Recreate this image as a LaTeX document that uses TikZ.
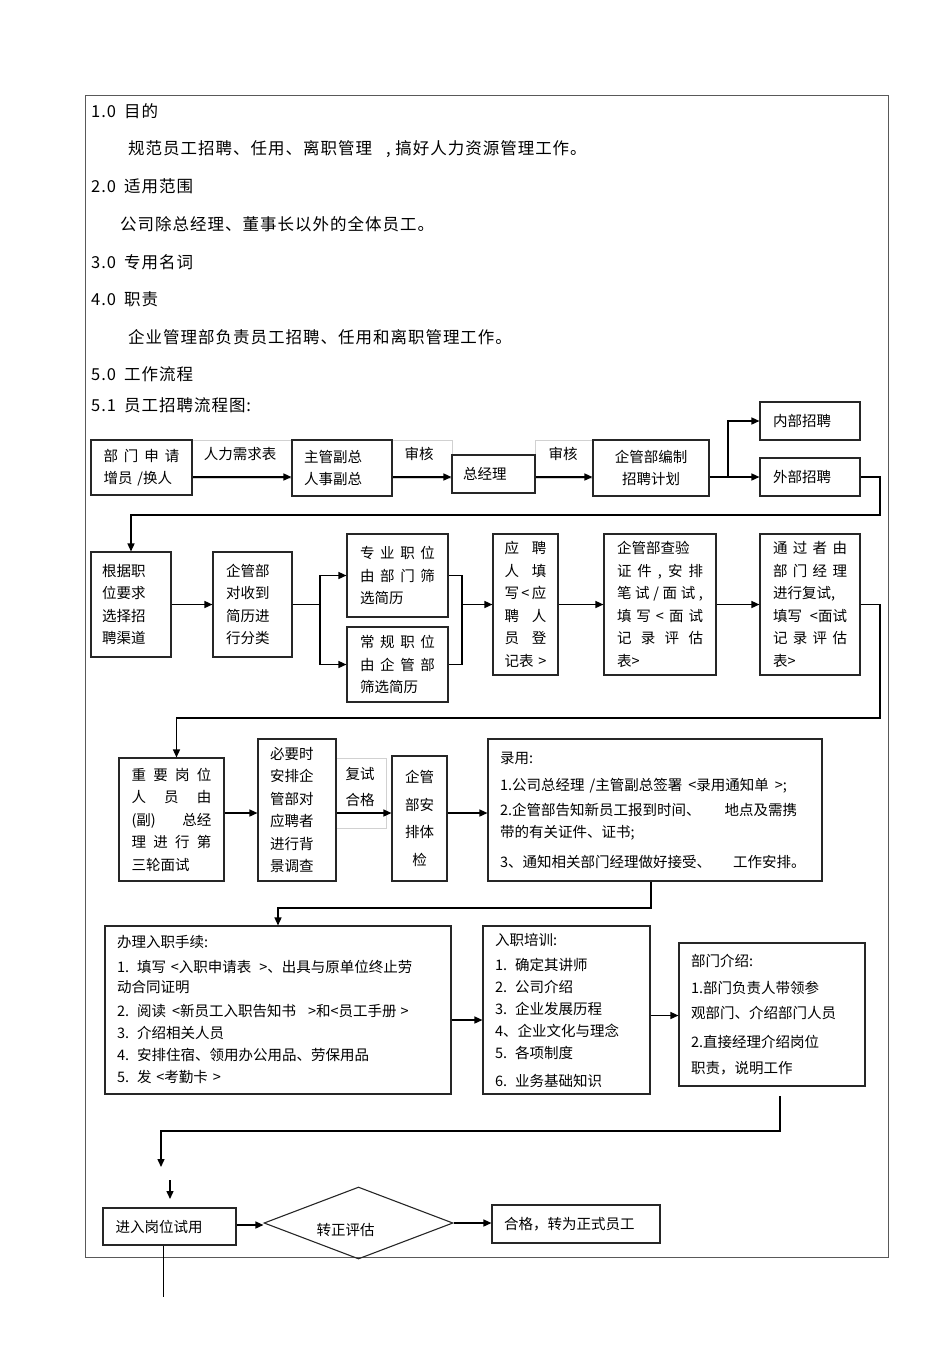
\documentclass[tikz,border=0pt]{standalone}
\usepackage{fontspec}
\setmainfont{Noto Sans CJK SC}
\usetikzlibrary{arrows.meta,shapes.geometric,calc}
\newcommand\Jl[1]{\makebox[\linewidth][l]{#1}}
\tikzset{
  box/.style={draw=black!85, line width=1.1pt, inner sep=0pt, align=left,
              font=\fontsize{14.5}{22.5}\selectfont},
  arr/.style={line width=1.4pt, -{Triangle[length=8pt,width=7pt]}},
  ln/.style={line width=1.4pt},
  body/.style={anchor=west, inner sep=0pt,
               font=\fontsize{16.5}{20}\selectfont\addfontfeatures{LetterSpace=6}},
  faint/.style={draw=black!18, line width=0.8pt},
  lbl/.style={inner sep=0pt, align=left, font=\fontsize{14.5}{26}\selectfont},
}
\begin{document}
\begin{tikzpicture}[x=1pt,y=-1pt]
\useasboundingbox (0,0) rectangle (950,1345);
% outer frame
\draw[black!65, line width=0.9pt] (85,95) rectangle (888,1257);

% body text
\node[body] (t10) at (91,111) {1.0\hspace{8pt}目的};
\node[body] (t11) at (128,149) {规范员工招聘、任用、离职管理\hspace{14pt}, 搞好人力资源管理工作。};
\node[body] (t20) at (91,186) {2.0\hspace{8pt}适用范围};
\node[body] (t21) at (120,224) {公司除总经理、董事长以外的全体员工。};
\node[body] (t30) at (91,262) {3.0\hspace{8pt}专用名词};
\node[body] (t40) at (91,299) {4.0\hspace{8pt}职责};
\node[body] (t41) at (128,337) {企业管理部负责员工招聘、任用和离职管理工作。};
\node[body] (t50) at (91,374) {5.0\hspace{8pt}工作流程};
\node[body] (t51) at (91,405) {5.1\hspace{8pt}员工招聘流程图:};

% ---------- row 1 ----------
\draw[faint] (192,440) rectangle (292,478);
\draw[faint] (392,440) rectangle (452,478);
\draw[faint] (535,440) rectangle (593,478);
\node[box, minimum width=101pt, minimum height=55pt, text width=76pt] (A) at (141.5,467.5)
  {\Jl{部\hfill 门\hfill 申\hfill 请}\\增员 /换人};
\node[box, minimum width=100pt, minimum height=56pt, text width=76pt] (B) at (342,468)
  {主管副总\\人事副总};
\node[box, minimum width=83pt, minimum height=38pt, text width=61pt] (C) at (493.5,474)
  {总经理};
\node[box, minimum width=116pt, minimum height=56pt, text width=90pt, align=center] (D) at (651,468)
  {企管部编制\\招聘计划};
\node[box, minimum width=100pt, minimum height=38pt, text width=74pt] (E1) at (810,421)
  {内部招聘};
\node[box, minimum width=100pt, minimum height=38pt, text width=74pt] (E2) at (810,477)
  {外部招聘};
\node[lbl] (lA) at (240,454) {人力需求表};
\node[lbl] (lB) at (419,454) {审核};
\node[lbl] (lC) at (563,454) {审核};

\draw[arr] ([yshift=-9.5pt]A.east) -- ([yshift=-9.5pt]A.east -| B.west);
\draw[arr] ([yshift=-9pt]B.east) -- ([yshift=-9pt]B.east -| C.west);
\draw[arr] ([yshift=-3pt]C.east) -- ([yshift=-3pt]C.east -| D.west);
\coordinate (jD) at (728,477);
\draw[ln] (D.east |- jD) -- (jD);
\draw[arr] (jD) |- (E1.west);
\draw[arr] (jD) -- (E2.west);

% ---------- row 2 ----------
\node[box, minimum width=80pt, minimum height=105pt, text width=58pt] (F) at (131,604.5)
  {根据职\\位要求\\选择招\\聘渠道};
\node[box, minimum width=79pt, minimum height=105pt, text width=53pt] (G) at (252.5,604.5)
  {企管部\\对收到\\简历进\\行分类};
\node[box, minimum width=101pt, minimum height=83pt, text width=75pt] (H1) at (397.5,575.5)
  {\Jl{专\hfill 业\hfill 职\hfill 位}\\\Jl{由\hfill 部\hfill 门\hfill 筛}\\选简历};
\node[box, minimum width=101pt, minimum height=75pt, text width=75pt] (H2) at (397.5,664.5)
  {\Jl{常\hfill 规\hfill 职\hfill 位}\\\Jl{由\hfill 企\hfill 管\hfill 部}\\筛选简历};
\node[box, minimum width=65pt, minimum height=141pt, text width=42pt] (I) at (525.5,604.5)
  {\Jl{应\hfill 聘}\\\Jl{人\hfill 填}\\\Jl{写\hfill <\hfill 应}\\\Jl{聘\hfill 人}\\\Jl{员\hfill 登}\\记表 >};
\node[box, minimum width=112pt, minimum height=141pt, text width=86pt] (J) at (660,604.5)
  {企管部查验\\\Jl{证\hfill 件\hfill ,\hfill 安\hfill 排}\\\Jl{笔\hfill 试\hfill /\hfill 面\hfill 试\hfill ,}\\\Jl{填\hfill 写\hfill <\hfill 面\hfill 试}\\\Jl{记\hfill 录\hfill 评\hfill 估}\\表>};
\node[box, minimum width=100pt, minimum height=141pt, text width=74pt] (K) at (810,604.5)
  {\Jl{通\hfill 过\hfill 者\hfill 由}\\\Jl{部\hfill 门\hfill 经\hfill 理}\\进行复试,\\\Jl{填写\hfill <面试}\\\Jl{记\hfill 录\hfill 评\hfill 估}\\表>};

\coordinate (t1) at (880,515);
\draw[arr] (E2.east) -| (t1) -| (F.north);
\draw[arr] (F.east) -- (G.west);
\coordinate (jG) at (320,604.5);
\draw[ln] (G.east) -- (jG);
\draw[arr] (jG) |- (H1.west);
\draw[arr] (jG) |- (H2.west);
\coordinate (jH) at (462,604.5);
\draw[ln] (H1.east) -| (jH) |- (H2.east);
\draw[arr] (jH) -- (I.west);
\draw[arr] (I.east) -- (J.west);
\draw[arr] (J.east) -- (K.west);

% ---------- row 3 ----------
\draw[faint] (336,758) rectangle (386,828);
\node[box, minimum width=105pt, minimum height=123pt, text width=80pt] (L) at (171.5,819.5)
  {\Jl{重\hfill 要\hfill 岗\hfill 位}\\\Jl{人\hfill 员\hfill 由}\\\Jl{(副)\hfill 总经}\\\Jl{理\hfill 进\hfill 行\hfill 第}\\三轮面试};
\node[box, minimum width=78pt, minimum height=142pt, text width=54pt] (M) at (297,810)
  {必要时\\安排企\\管部对\\应聘者\\进行背\\景调查};
\node[lbl] (lM) at (360,787) {复试\\合格};
\node[box, minimum width=55pt, minimum height=125pt, text width=40pt, align=center,
      font=\fontsize{14.5}{27.5}\selectfont] (N) at (419.5,818.5)
  {企管\\部安\\排体\\检};
\node[box, minimum width=334pt, minimum height=142pt, text width=310pt] (O) at (655,810)
  {录用:\\[5pt]
   1.公司总经理\hspace{5pt}/主管副总签署\hspace{6pt}<录用通知单\hspace{6pt}>;\\[2pt]
   2.企管部告知新员工报到时间、\hspace{24pt}地点及需携\\
   带的有关证件、证书;\\[7pt]
   3、通知相关部门经理做好接受、\hspace{22pt}工作安排。};

\coordinate (t2) at (880,718);
\draw[arr] (K.east) -| (t2) -| ([xshift=5pt]L.north);
\draw[arr] ([yshift=6.5pt]L.east) -- ([yshift=6.5pt]L.east -| M.west);
\draw[arr] ([yshift=-3pt]M.east) -- ([yshift=-3pt]M.east -| N.west);
\draw[arr] ([yshift=5.5pt]N.east) -- ([yshift=5.5pt]N.east -| O.west);

% ---------- row 4 ----------
\node[box, minimum width=346pt, minimum height=168pt, text width=322pt,
      font=\fontsize{14.5}{22}\selectfont] (P) at (278,1010)
  {办理入职手续:\\[3pt]
   1.\hspace{8pt}填写 <入职申请表\hspace{8pt}>、出具与原单位终止劳\\[-2pt]
   动合同证明\\[2pt]
   2.\hspace{8pt}阅读\hspace{6pt}<新员工入职告知书\hspace{12pt}>和<员工手册\hspace{4pt}>\\
   3.\hspace{8pt}介绍相关人员\\
   4.\hspace{8pt}安排住宿、领用办公用品、劳保用品\\
   5.\hspace{8pt}发 <考勤卡 >};
\node[box, minimum width=167pt, minimum height=168pt, text width=143pt,
      font=\fontsize{14.5}{22}\selectfont] (Q) at (566.5,1010)
  {入职培训:\\[3pt]
   1.\hspace{8pt}确定其讲师\\
   2.\hspace{8pt}公司介绍\\
   3.\hspace{8pt}企业发展历程\\
   4、企业文化与理念\\
   5.\hspace{8pt}各项制度\\[6pt]
   6.\hspace{8pt}业务基础知识};
\node[box, minimum width=186pt, minimum height=143pt, text width=162pt,
      font=\fontsize{14.5}{27}\selectfont] (R) at (772,1014.5)
  {部门介绍:\\
   1.部门负责人带领参\\[-2pt]
   观部门、介绍部门人员\\[2pt]
   2.直接经理介绍岗位\\[-1pt]
   职责，说明工作};

\coordinate (t3) at (651,908);
\draw[arr] (O.south -| t3) -- (t3) -| (P.north);
\draw[arr] ([yshift=-10pt]P.east) -- ([yshift=-10pt]P.east -| Q.west);
\draw[arr] ([yshift=-5.5pt]Q.east) -- ([yshift=-5.5pt]Q.east -| R.west);

% ---------- row 5 ----------
\coordinate (s4) at (780,1096);
\coordinate (t4) at (780,1131);
\coordinate (e1) at (161,1167);
\draw[arr] (s4) -- (t4) -| (e1);
\coordinate (e2s) at (170,1180);
\coordinate (e2) at (170,1199);
\draw[arr] (e2s) -- (e2);

\node[box, minimum width=133pt, minimum height=37pt, text width=108pt] (S) at (169.5,1226.5)
  {进入岗位试用};
\node[draw=black!85, line width=1.1pt, shape=diamond, minimum width=189pt, minimum height=72pt,
      inner sep=0pt,
      label={[name=DmT, lbl, xshift=-13pt, yshift=-7pt]center:转正评估}] (Dm) at (358.5,1223) {};
\node[box, minimum width=168pt, minimum height=38pt, text width=144pt] (T) at (576,1224)
  {合格，转为正式员工};
\draw[arr] ([yshift=1.5pt]S.east) -- ([yshift=1.5pt]S.east -| Dm.west);
\draw[arr] (Dm.east) -- (Dm.east -| T.west);
\coordinate (e3) at (163,1297);
\draw[line width=1pt] (e3 |- S.south) -- (e3);
\end{tikzpicture}
\end{document}
